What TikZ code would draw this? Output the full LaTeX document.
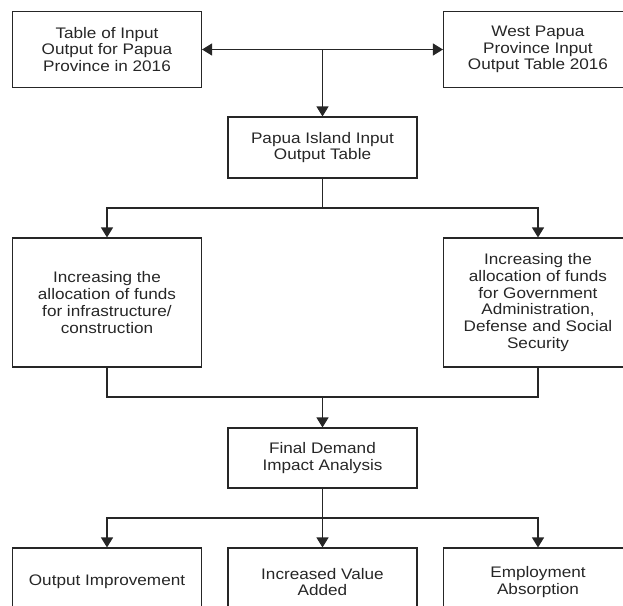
\documentclass[tikz,border=0pt]{standalone}
\usepackage{fontspec}
\setmainfont{Liberation Sans}[FakeStretch=1.12]
\usetikzlibrary{arrows.meta}
\definecolor{ink}{HTML}{262626}
\tikzset{
  >={Triangle[width=12pt,length=10pt]},
  box/.style={draw=ink, line width=1.1pt, text=ink, align=center,
    minimum width=189pt, inner sep=0pt, font=\fontsize{15.3}{16.7}\selectfont},
}
\begin{document}
\begin{tikzpicture}[x=1pt,y=-1pt]
      \useasboundingbox (0,0) rectangle (623,605);
      \clip (0,0) rectangle (623,605);
      \draw
        (107,49.5) node[box, minimum height=75.6pt] (papua){Table of Input\\Output for Papua\\Province in 2016}
        (538,49.5) node[box, minimum height=75.6pt] (westpapua){West Papua\\Province Input\\Output Table 2016}
        (322.5,147.5) node[box, minimum height=61pt] (island){Papua Island Input\\Output Table}
        (107,302.5) node[box, minimum height=129pt] (infra){Increasing the\\allocation of funds\\for infrastructure/\\construction}
        (538,302.5) node[box, minimum height=129pt] (govt){Increasing the\\allocation of funds\\for Government\\Administration,\\Defense and Social\\Security}
        (322.5,458) node[box, minimum height=60pt] (demand){Final Demand\\Impact Analysis}
        (107,582) node[box, minimum height=68pt] (output){Output Improvement}
        (322.5,582) node[box, minimum height=68pt] (value){Increased Value\\Added}
        (538,582) node[box, minimum height=68pt] (jobs){Employment\\Absorption};
      \coordinate (fork) at (papua -| island);
      \coordinate (split) at (322.5,208);
      \coordinate (merge) at (322.5,397);
      \coordinate (fan) at (322.5,518);
      \begin{scope}[draw=ink, line width=1.1pt]
        \draw[<->] (papua) to (westpapua);
        \draw[->] (fork) to (island);
        \draw (island) to (split);
        \draw[->] (split) -| (infra);
        \draw[->] (split) -| (govt);
        \draw (infra) |- (merge);
        \draw (govt) |- (merge);
        \draw[->] (merge) to (demand);
        \draw (demand) to (fan);
        \draw[->] (fan) -| (output);
        \draw[->] (fan) to (value);
        \draw[->] (fan) -| (jobs);
      \end{scope}
    \end{tikzpicture}
\end{document}
